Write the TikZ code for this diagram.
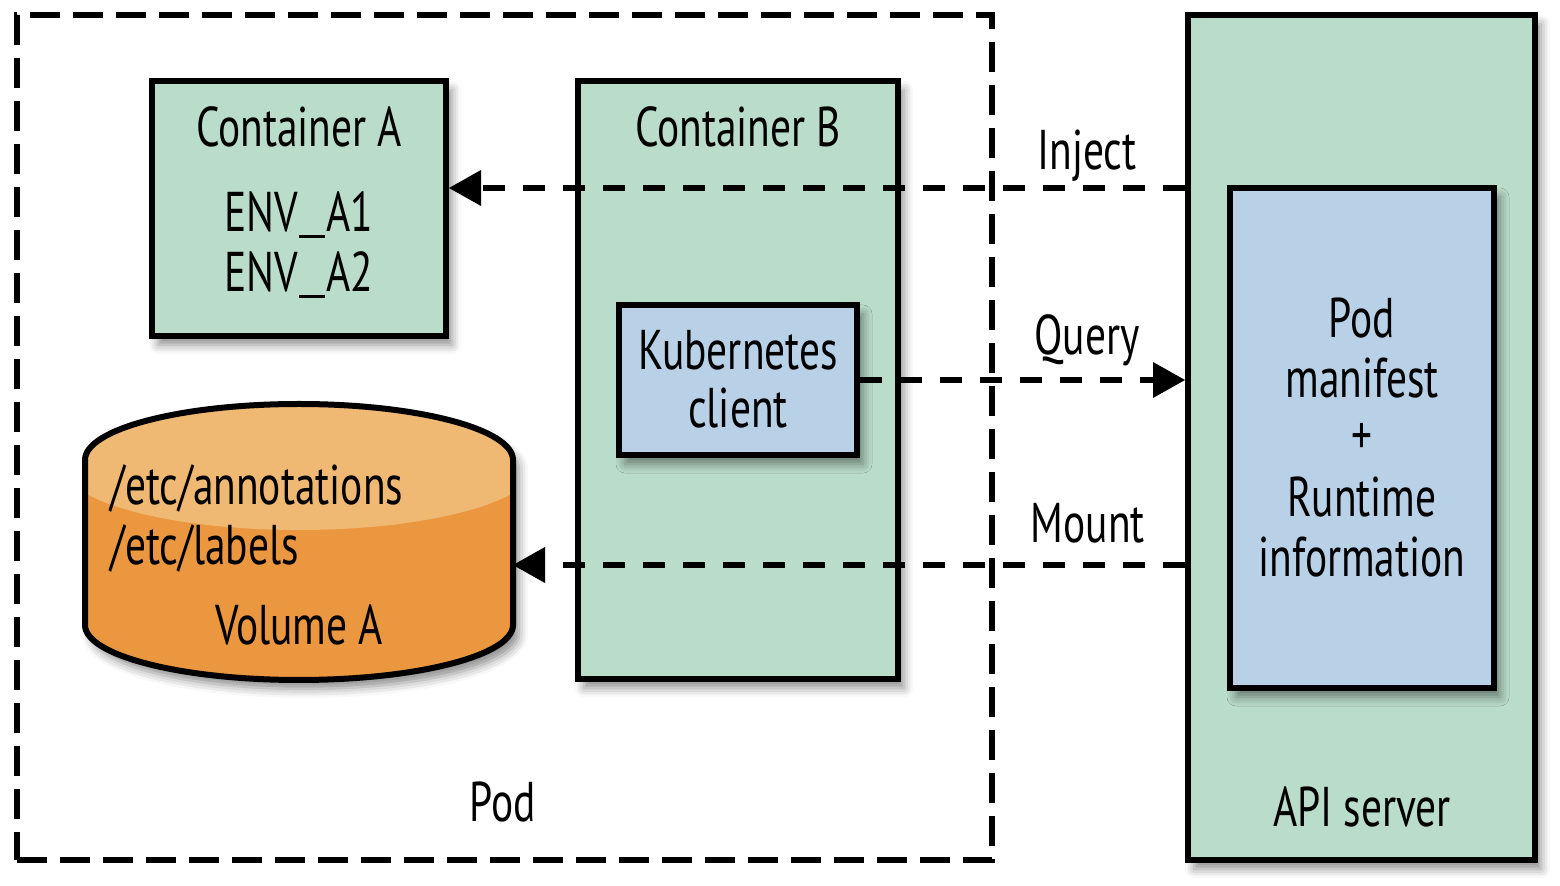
\documentclass[tikz,border=0pt]{standalone}
\usepackage{fontspec}
\setmainfont{PT Sans}[FakeStretch=0.74]
\usetikzlibrary{arrows.meta,shadows.blur}
\definecolor{cgreen}{HTML}{BADCCA}
\definecolor{cblue}{HTML}{B8D1E7}
\definecolor{corange}{HTML}{EA973F}
\definecolor{corangelt}{HTML}{EFB873}
\newcommand{\usc}{\kern0.5pt\rule[-3pt]{13pt}{1.5pt}\kern0.5pt}
\begin{document}
\begin{tikzpicture}[x=0.5pt,y=-0.5pt,
  shad/.style={blur shadow={shadow xshift=3pt,shadow yshift=-4.5pt,shadow blur radius=4.5pt,shadow opacity=45}},
  box/.style={draw=black,line width=3pt,inner sep=0pt,shad},
  greenbox/.style={box,fill=cgreen},
  bluebox/.style={box,fill=cblue},
  lbl/.style={font=\fontsize{28}{30}\selectfont,anchor=base,inner sep=0pt},
  lbll/.style={lbl,anchor=base west},
  conn/.style={line width=2.6pt,dash pattern=on 11pt off 9pt,
    -{Triangle[length=16pt,width=18pt,line width=0pt]}},
  podline/.style={line width=2.6pt,dash pattern=on 15pt off 6.5pt}
]
\useasboundingbox (0,0) rectangle (1560,886);
% Pod boundary
\node[draw=black,podline,minimum width=487.5pt,minimum height=422.5pt,inner sep=0pt] (pod) at (504.5,437.5) {};
% API server
\node[greenbox,minimum width=173.5pt,minimum height=422.5pt] (api) at (1361.5,437.5) {};
\node[bluebox,minimum width=132pt,minimum height=250pt] (pm) at (1362,438) {};
% Containers
\node[greenbox,minimum width=147pt,minimum height=127.5pt] (ca) at (299,208.5) {};
\node[greenbox,minimum width=160pt,minimum height=299pt] (cb) at (738,380) {};
\node[bluebox,minimum width=119pt,minimum height=75pt] (kc) at (738,380) {};
% Volume cylinder
\begin{scope}
  \path[shad,fill=corange] (85,460) -- (85,625) arc[start angle=180,end angle=0,x radius=214,y radius=55]
     -- (513,460) arc[start angle=0,end angle=-180,x radius=214,y radius=56] -- cycle;
  \clip (85,460) -- (85,625) arc[start angle=180,end angle=0,x radius=214,y radius=55]
     -- (513,460) arc[start angle=0,end angle=-180,x radius=214,y radius=56] -- cycle;
  \fill[corangelt] (299,466) ellipse[x radius=236,y radius=64];
\end{scope}
\draw[line width=3pt] (85,460) -- (85,625) arc[start angle=180,end angle=0,x radius=214,y radius=55]
     -- (513,460) arc[start angle=0,end angle=-180,x radius=214,y radius=56] -- cycle;
\coordinate (vol) at (513,565);
\coordinate (inj) at (1188,188);
% Connectors
\draw[conn] (api.west |- inj) -- (ca.east |- inj);
\draw[conn] (kc.east) -- (api.west |- kc.east);
\draw[conn] (api.west |- vol) -- (vol);
% Labels
\node[lbl] (tca) at (299,147) {Container A};
\node[lbl] (tea1) at (299,232) {ENV\usc A1};
\node[lbl] (tea2) at (299,292) {ENV\usc A2};
\node[lbl] (tcb) at (738,147) {Container B};
\node[lbl] (tkc1) at (738,370) {Kubernetes};
\node[lbl] (tkc2) at (738,428) {client};
\node[lbl] (tinj) at (1087,170) {Inject};
\node[lbl] (tq) at (1087,355) {Query};
\node[lbl] (tm) at (1088,543) {Mount};
\node[lbl] (tp1) at (1362,338) {Pod};
\node[lbl] (tp2) at (1362,398) {manifest};
\node[lbl] (tp3) at (1362,455) {+};
\node[lbl] (tp4) at (1362,517) {Runtime};
\node[lbl] (tp5) at (1362,577) {information};
\node[lbll] (tv1) at (110,505) {/etc/annotations};
\node[lbll] (tv2) at (110,565) {/etc/labels};
\node[lbl] (tv3) at (299,645) {Volume A};
\node[lbl] (tpod) at (503,822) {Pod};
\node[lbl] (tapi) at (1362,827) {API server};
\end{tikzpicture}
\end{document}
